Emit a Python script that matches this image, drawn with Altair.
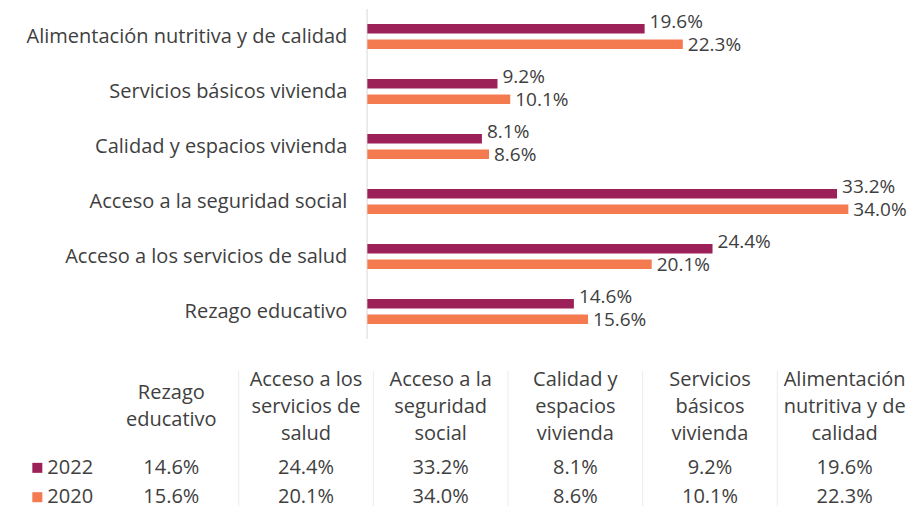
import altair as alt
import pandas as pd

categories = [
    "Alimentación nutritiva y de calidad",
    "Servicios básicos vivienda",
    "Calidad y espacios vivienda",
    "Acceso a la seguridad social",
    "Acceso a los servicios de salud",
    "Rezago educativo",
]
values_2022 = [19.6, 9.2, 8.1, 33.2, 24.4, 14.6]
values_2020 = [22.3, 10.1, 8.6, 34.0, 20.1, 15.6]
years = ["2022", "2020"]
colors = ["#9c2159", "#f47a4f"]

table_order = [
    "Rezago educativo",
    "Acceso a los servicios de salud",
    "Acceso a la seguridad social",
    "Calidad y espacios vivienda",
    "Servicios básicos vivienda",
    "Alimentación nutritiva y de calidad",
]
table_headers = [
    "Rezago\neducativo",
    "Acceso a los\nservicios de\nsalud",
    "Acceso a la\nseguridad\nsocial",
    "Calidad y\nespacios\nvivienda",
    "Servicios\nbásicos\nvivienda",
    "Alimentación\nnutritiva y de\ncalidad",
]
table_rows = ["h1", "h2", "h3", "2022", "2020"]

FONT = "Open Sans"
TXT = "#404040"
FS = 20
LFS = 19

rows = []
for c, a, b in zip(categories, values_2022, values_2020):
    rows.append({"cat": c, "year": "2022", "value": a, "label": f"{a:.1f}%"})
    rows.append({"cat": c, "year": "2020", "value": b, "label": f"{b:.1f}%"})
df = pd.DataFrame(rows)
df["row"] = df["year"]
cat_df = pd.DataFrame({"cat": categories, "base": 0.0})
head_df = pd.DataFrame({"cat": table_order, "header": table_headers, "row": "h1"})
head_df["n"] = head_df["header"].str.count("\n") + 1
year_df = pd.DataFrame({"year": years, "row": years, "cat": table_order[0]})

color = alt.Color("year:N", scale=alt.Scale(domain=years, range=colors), legend=None)
x_scale = alt.Scale(domain=[-25.4, 38.5], nice=False, zero=False)
y_enc = alt.Y("cat:N", sort=categories, axis=None,
              scale=alt.Scale(type="band", paddingInner=0, paddingOuter=0))

OFF = 7.75
BAR = 9.5
base = alt.Chart(df)
d22 = base.transform_filter(alt.datum.year == "2022")
d20 = base.transform_filter(alt.datum.year == "2020")
axis_line = alt.Chart(cat_df).mark_rule(color="#e8e8e8", strokeWidth=1).encode(
    x=alt.X("base:Q", axis=None))
bars22 = d22.mark_bar(size=BAR, yOffset=-OFF, color=colors[0]).encode(
    x=alt.X("value:Q", scale=x_scale, axis=None), y=y_enc)
bars20 = d20.mark_bar(size=BAR, yOffset=OFF, color=colors[1]).encode(
    x=alt.X("value:Q", scale=x_scale, axis=None), y=y_enc)
lab22 = d22.mark_text(
    align="left", baseline="middle", dx=5, dy=-OFF - 7, font=FONT, fontSize=LFS, color=TXT
).encode(x=alt.X("value:Q", axis=None), y=y_enc, text="label:N")
lab20 = d20.mark_text(
    align="left", baseline="middle", dx=5, dy=OFF + 1, font=FONT, fontSize=LFS, color=TXT
).encode(x=alt.X("value:Q", axis=None), y=y_enc, text="label:N")
catlab = alt.Chart(cat_df).mark_text(
    align="right", baseline="middle", dx=-20, font=FONT, fontSize=FS, color=TXT
).encode(x=alt.X("base:Q", axis=None), y=y_enc, text="cat:N")

top = alt.layer(axis_line, bars22, bars20, lab22, lab20, catlab).properties(width=904, height=330)

tscale = alt.Scale(type="band", paddingInner=0, paddingOuter=0.3564, align=1)
tx = alt.X("cat:N", sort=table_order, axis=None, scale=tscale)
ty = alt.Y("row:N", sort=table_rows, axis=None,
           scale=alt.Scale(type="point", domain=table_rows, padding=0.3))

LH = 27
seps = alt.Chart(head_df).transform_filter(alt.datum.cat != table_order[0]).mark_rule(
    color="#ececec", strokeWidth=1
).encode(x=alt.X("cat:N", sort=table_order, axis=None, bandPosition=0, scale=tscale))
heads3 = alt.Chart(head_df).transform_filter(alt.datum.n == 3).mark_text(
    baseline="middle", align="center", lineBreak="\n", lineHeight=LH,
    font=FONT, fontSize=FS, color=TXT
).encode(x=tx, y=ty, text="header:N")
heads2 = alt.Chart(head_df).transform_filter(alt.datum.n == 2).mark_text(
    baseline="middle", align="center", lineBreak="\n", lineHeight=LH, dy=LH / 2,
    font=FONT, fontSize=FS, color=TXT
).encode(x=tx, y=ty, text="header:N")
vals = alt.Chart(df).mark_text(
    baseline="middle", align="center", font=FONT, fontSize=FS, color=TXT
).encode(x=tx, y=ty, text="label:N")
squares = alt.Chart(year_df).mark_square(size=100, opacity=1, xOffset=-134).encode(
    x=tx, y=ty, color=color)
ylabels = alt.Chart(year_df).mark_text(
    align="left", baseline="middle", dx=-124, font=FONT, fontSize=FS, color=TXT
).encode(x=tx, y=ty, text="year:N")

table = alt.layer(seps, heads3, heads2, vals, squares, ylabels).properties(width=904, height=135)

chart = alt.vconcat(top, table, spacing=29).properties(padding=0).configure_view(strokeWidth=0)
chart.save("out.html", embed_options={"renderer": "svg", "actions": False})
